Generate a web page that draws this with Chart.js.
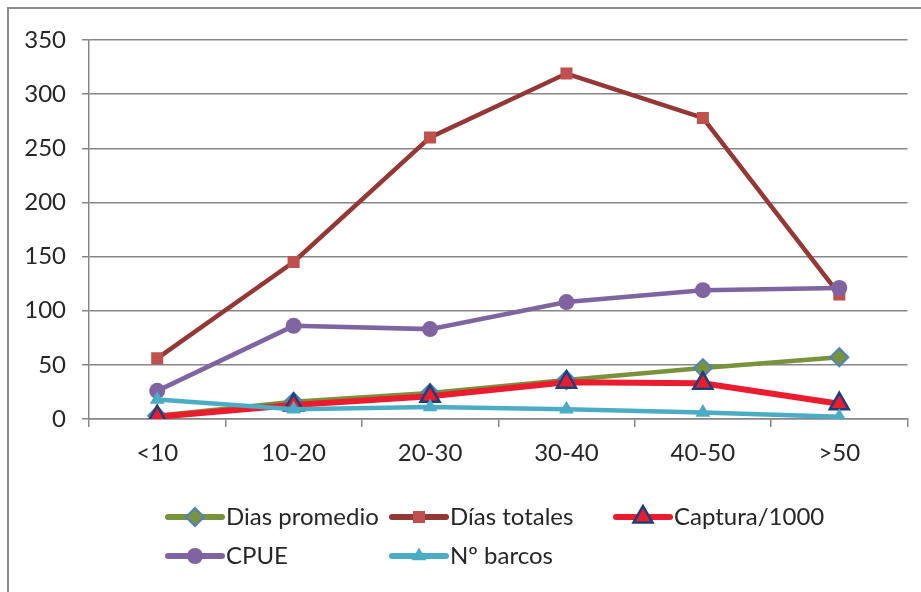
<!DOCTYPE html>
<html>
<head>
<meta charset="utf-8">
<script src="https://cdn.jsdelivr.net/npm/chart.js@4.4.0/dist/chart.umd.min.js"></script>
<style>
    html, body { margin: 0; padding: 0; background: #fff; overflow: hidden; }
    #frame { position: absolute; left: 7px; top: 7px; width: 1000px; height: 700px; border: 2px solid #8c8c8c; }
    #chart { position: absolute; left: 0; top: 0; }
</style>
</head>
<body>
<div id="frame"></div>
<canvas id="chart" width="921" height="592"></canvas>
<script>
// Datos por clase de eslora
const categories = ['<10', '10-20', '20-30', '30-40', '40-50', '>50'];
const diasPromedio = [3, 16, 24, 36, 47, 57];
const diasTotales = [56, 145, 260, 319, 278, 115];
const captura1000 = [2, 13, 21, 34, 33, 14];
const cpue = [26, 86, 83, 108, 119, 121];
const nBarcos = [18, 9, 11, 9, 6, 2];
const yTicks = [0, 50, 100, 150, 200, 250, 300, 350];

const FONT = 'Lato';
const TEXT_COLOR = '#262626';
const GRID_COLOR = '#868686';

function drawMarker(ctx, style, x, y, r, fill, stroke, bw) {
    ctx.save();
    ctx.beginPath();
    if (style === 'rectRot') {
        ctx.moveTo(x, y - r);
        ctx.lineTo(x + r, y);
        ctx.lineTo(x, y + r);
        ctx.lineTo(x - r, y);
        ctx.closePath();
    } else if (style === 'rect') {
        const s = r * Math.SQRT1_2;
        ctx.rect(x - s, y - s, 2 * s, 2 * s);
    } else if (style === 'triangle') {
        let a = 0;
        ctx.moveTo(x + Math.sin(a) * r, y - Math.cos(a) * r);
        a += Math.PI * 2 / 3;
        ctx.lineTo(x + Math.sin(a) * r, y - Math.cos(a) * r);
        a += Math.PI * 2 / 3;
        ctx.lineTo(x + Math.sin(a) * r, y - Math.cos(a) * r);
        ctx.closePath();
    } else {
        ctx.arc(x, y, r, 0, Math.PI * 2);
    }
    ctx.fillStyle = fill;
    ctx.fill();
    if (bw > 0) {
        ctx.lineWidth = bw;
        ctx.strokeStyle = stroke;
        ctx.stroke();
    }
    ctx.restore();
}

// Leyenda tipo Excel: linea + marcador
const legendSlots = [
    { x: 168, y: 517 }, { x: 392, y: 517 }, { x: 616, y: 517 },
    { x: 168, y: 556 }, { x: 392, y: 556 }
];

const legendPlugin = {
    id: 'excelLegend',
    afterDraw(chart) {
        const ctx = chart.ctx;
        chart.data.datasets.forEach((ds, i) => {
            const slot = legendSlots[i];
            ctx.save();
            ctx.strokeStyle = ds.borderColor;
            ctx.lineWidth = 6;
            ctx.lineCap = 'round';
            ctx.beginPath();
            ctx.moveTo(slot.x, slot.y);
            ctx.lineTo(slot.x + 54, slot.y);
            ctx.stroke();
            ctx.restore();
            drawMarker(ctx, ds.pointStyle, slot.x + 27, slot.y, ds.pointRadius,
                ds.pointBackgroundColor, ds.pointBorderColor, ds.pointBorderWidth);
            ctx.save();
            ctx.fillStyle = TEXT_COLOR;
            ctx.font = '24px ' + FONT;
            ctx.textBaseline = 'middle';
            ctx.fillText(ds.label, slot.x + 58, slot.y);
            ctx.restore();
        });
    }
};

new Chart(document.getElementById('chart'), {
    type: 'line',
    data: {
        labels: categories,
        datasets: [{
            label: 'Dias promedio',
            data: diasPromedio,
            borderColor: '#77933C',
            borderWidth: 4.5,
            pointStyle: 'rectRot',
            pointRadius: 9,
            pointBackgroundColor: '#77933C',
            pointBorderColor: '#4F81BD',
            pointBorderWidth: 2,
            order: 5
        }, {
            label: 'Días totales',
            data: diasTotales,
            borderColor: '#953735',
            borderWidth: 4.5,
            pointStyle: 'rect',
            pointRadius: 8.5,
            pointBackgroundColor: '#C0504D',
            pointBorderColor: '#C0504D',
            pointBorderWidth: 0,
            order: 4
        }, {
            label: 'Captura/1000',
            data: captura1000,
            borderColor: '#EA1C2D',
            borderWidth: 6,
            pointStyle: 'triangle',
            pointRadius: 11,
            pointBackgroundColor: '#EA1C2D',
            pointBorderColor: '#1F3F7A',
            pointBorderWidth: 2.5,
            order: 3
        }, {
            label: 'CPUE',
            data: cpue,
            borderColor: '#8064A2',
            borderWidth: 4.5,
            pointStyle: 'circle',
            pointRadius: 8,
            pointBackgroundColor: '#8064A2',
            pointBorderColor: '#8064A2',
            pointBorderWidth: 0,
            order: 2
        }, {
            label: 'Nº barcos',
            data: nBarcos,
            borderColor: '#4BACC6',
            borderWidth: 4.5,
            pointStyle: 'triangle',
            pointRadius: 8.5,
            pointBackgroundColor: '#4BACC6',
            pointBorderColor: '#4BACC6',
            pointBorderWidth: 0,
            order: 1
        }]
    },
    options: {
        responsive: false,
        animation: false,
        devicePixelRatio: 1,
        layout: { padding: { left: 0, top: 40, right: 13, bottom: 0 } },
        plugins: {
            legend: { display: false },
            tooltip: { enabled: false }
        },
        scales: {
            x: {
                offset: true,
                afterFit: function(scale) { scale.height = 173; },
                grid: {
                    offset: true,
                    drawOnChartArea: false,
                    drawTicks: true,
                    tickLength: 8,
                    color: GRID_COLOR,
                    lineWidth: 1.5
                },
                border: { color: GRID_COLOR, width: 1.5 },
                ticks: {
                    color: TEXT_COLOR,
                    font: { family: FONT, size: 24 },
                    padding: 12,
                    maxRotation: 0
                }
            },
            y: {
                min: 0,
                max: 350,
                afterFit: function(scale) { scale.width = 89; },
                afterBuildTicks: function(scale) {
                    scale.ticks = yTicks.map(v => ({ value: v }));
                },
                grid: {
                    color: GRID_COLOR,
                    lineWidth: 1.5,
                    tickLength: 7
                },
                border: { color: GRID_COLOR, width: 1.5 },
                ticks: {
                    color: TEXT_COLOR,
                    font: { family: FONT, size: 24 },
                    padding: 16
                }
            }
        }
    },
    plugins: [legendPlugin]
});
</script>
</body>
</html>
